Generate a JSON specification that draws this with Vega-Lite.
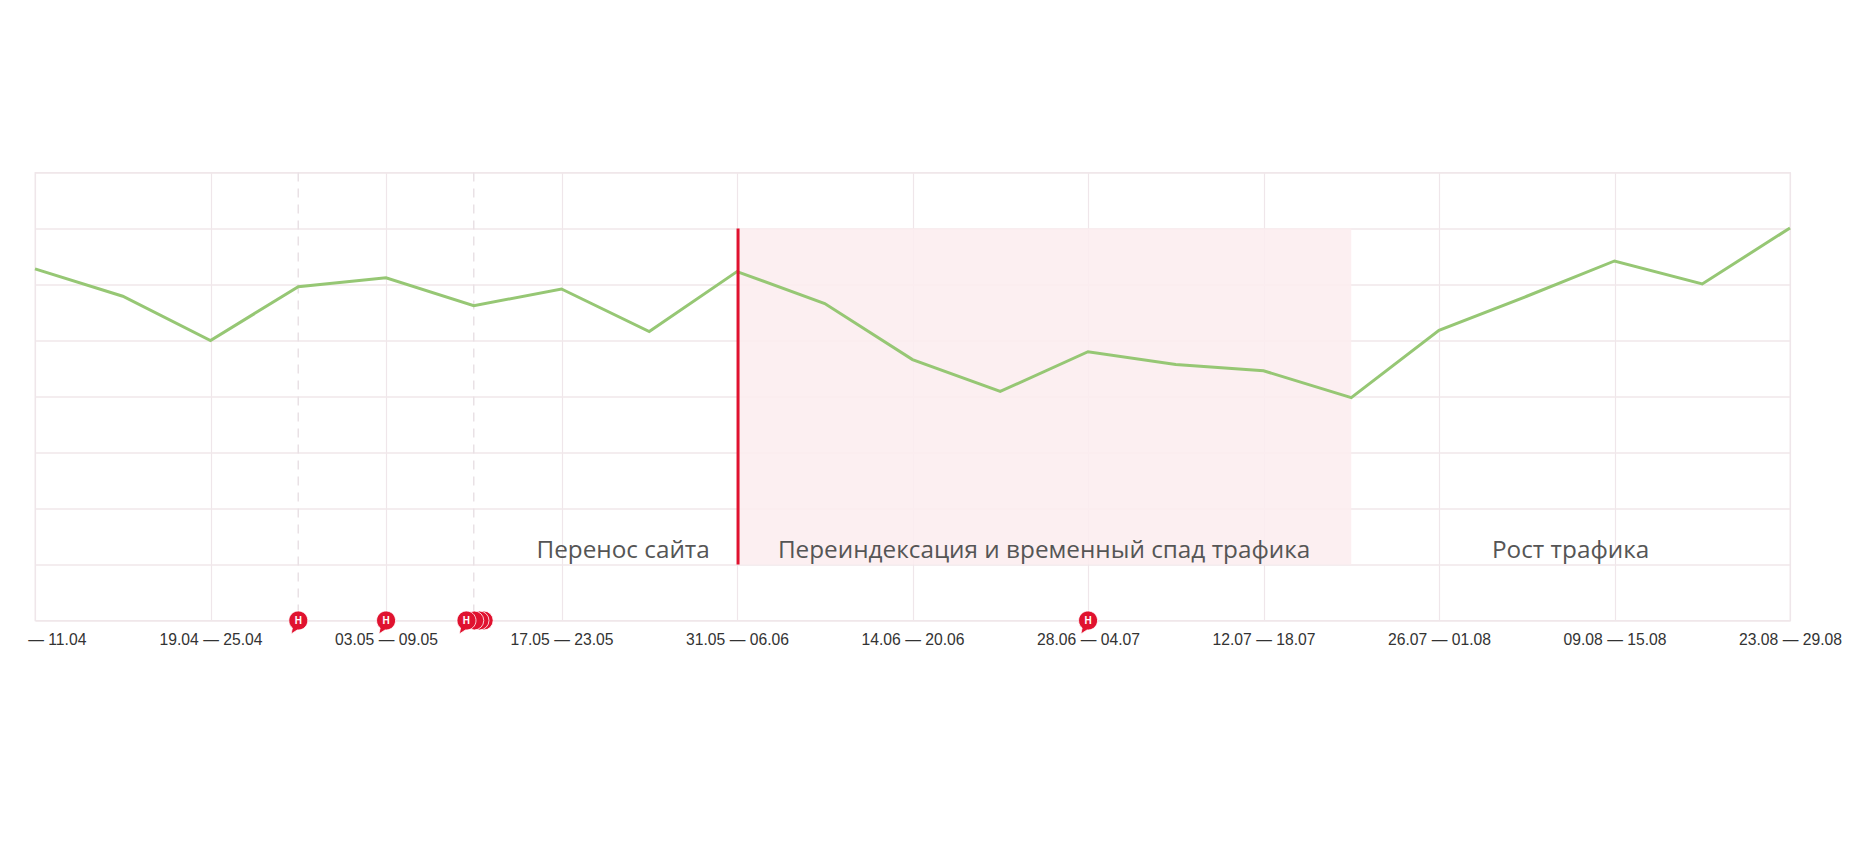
{
  "$schema": "https://vega.github.io/schema/vega-lite/v6.json",
  "width": 1755,
  "height": 448,
  "autosize": {"type": "none"},
  "padding": {"left": 35, "top": 172.5, "right": 86, "bottom": 235.5},
  "background": "#ffffff",
  "view": {"stroke": "#efe6ea", "strokeWidth": 1.3},
  "datasets": {
    "traffic": [
      {"week": "2021-04-05", "value": 6.28},
      {"week": "2021-04-12", "value": 5.79},
      {"week": "2021-04-19", "value": 5.0},
      {"week": "2021-04-26", "value": 5.96},
      {"week": "2021-05-03", "value": 6.12},
      {"week": "2021-05-10", "value": 5.62},
      {"week": "2021-05-17", "value": 5.92},
      {"week": "2021-05-24", "value": 5.16},
      {"week": "2021-05-31", "value": 6.23},
      {"week": "2021-06-07", "value": 5.66},
      {"week": "2021-06-14", "value": 4.66},
      {"week": "2021-06-21", "value": 4.09},
      {"week": "2021-06-28", "value": 4.8},
      {"week": "2021-07-05", "value": 4.57},
      {"week": "2021-07-12", "value": 4.46},
      {"week": "2021-07-19", "value": 3.98},
      {"week": "2021-07-26", "value": 5.18},
      {"week": "2021-08-02", "value": 5.79},
      {"week": "2021-08-09", "value": 6.42},
      {"week": "2021-08-16", "value": 6.01},
      {"week": "2021-08-23", "value": 7.01}
    ],
    "events": [
      {"date": "2021-04-26T00:00:00Z", "label": "Н"},
      {"date": "2021-05-03T00:00:00Z", "label": "Н"},
      {"date": "2021-05-10T19:00:00Z", "label": ""},
      {"date": "2021-05-10T11:00:00Z", "label": ""},
      {"date": "2021-05-10T01:00:00Z", "label": ""},
      {"date": "2021-05-09T10:00:00Z", "label": "Н"},
      {"date": "2021-06-28T00:00:00Z", "label": "Н"}
    ],
    "notes": [
      {"date": "2021-05-21T22:00:00Z", "text": "Перенос сайта"},
      {"date": "2021-06-24T12:00:00Z", "text": "Переиндексация и временный спад трафика"},
      {"date": "2021-08-05T12:00:00Z", "text": "Рост трафика"}
    ]
  },
  "layer": [
    {
      "data": {"values": [{"start": "2021-05-31T02:00:00Z", "end": "2021-07-19T00:00:00Z", "top": 7, "bottom": 1}]},
      "mark": {"type": "rect", "fill": "#fcedef", "opacity": 0.88},
      "encoding": {
        "x": {
          "field": "start", "type": "temporal", "title": null,
          "scale": {"type": "utc", "domain": [1617580800000, 1629676800000], "nice": false},
          "axis": {
            "values": [1617580800000, 1618790400000, 1620000000000, 1621209600000, 1622419200000, 1623628800000, 1624838400000, 1626048000000, 1627257600000, 1628467200000, 1629676800000],
            "labelExpr": "utcFormat(datum.value,'%d.%m')=='05.04' ? '\u200b\u00a0\u00a0\u00a0\u00a0\u00a0\u00a0\u00a0\u00a0\u00a0 — 11.04' : utcFormat(datum.value,'%d.%m') + ' — ' + utcFormat(time(datum.value) + 6*86400000,'%d.%m')",
            "grid": true, "gridColor": "#efe6ea", "gridWidth": 1.2,
            "domain": false, "ticks": false,
            "labelFont": "Liberation Sans", "labelFontSize": 15.7, "labelColor": "#333333",
            "labelPadding": 11.5, "labelOverlap": false, "labelBound": false, "labelFlush": false, "labelAngle": 0
          }
        },
        "x2": {"field": "end"},
        "y": {
          "field": "top", "type": "quantitative", "title": null,
          "scale": {"domain": [0, 8], "nice": false},
          "axis": {"values": [0, 1, 2, 3, 4, 5, 6, 7, 8], "grid": true, "gridColor": "#f0e7ea", "gridWidth": 1.5, "domain": false, "ticks": false, "labels": false}
        },
        "y2": {"field": "bottom"}
      }
    },
    {
      "data": {"values": [{"date": "2021-04-26"}, {"date": "2021-05-10"}]},
      "mark": {"type": "rule", "color": "#e9e1e5", "strokeWidth": 1.5, "strokeDash": [9, 7]},
      "encoding": {"x": {"field": "date", "type": "temporal"}}
    },
    {
      "data": {"name": "traffic"},
      "mark": {"type": "line", "color": "#96c774", "strokeWidth": 3, "interpolate": "linear"},
      "encoding": {
        "x": {"field": "week", "type": "temporal"},
        "y": {"field": "value", "type": "quantitative"}
      }
    },
    {
      "data": {"values": [{"date": "2021-05-31T02:00:00Z", "top": 7, "bottom": 1}]},
      "mark": {"type": "rule", "color": "#e0122f", "strokeWidth": 3},
      "encoding": {
        "x": {"field": "date", "type": "temporal"},
        "y": {"field": "top", "type": "quantitative"},
        "y2": {"field": "bottom"}
      }
    },
    {
      "data": {"name": "notes"},
      "mark": {"type": "text", "font": "Open Sans", "fontSize": 24.3, "color": "#555555", "align": "center", "baseline": "middle"},
      "encoding": {
        "x": {"field": "date", "type": "temporal"},
        "y": {"datum": 1.25},
        "text": {"field": "text"}
      }
    },
    {
      "data": {"name": "events"},
      "transform": [{"filter": "datum.label == ''"}],
      "mark": {"type": "point", "shape": "circle", "filled": true, "fill": "#e0122f", "fillOpacity": 1, "stroke": "#ffffff", "strokeWidth": 0.8, "strokeOpacity": 1, "size": 360},
      "encoding": {
        "x": {"field": "date", "type": "temporal"},
        "y": {"datum": 0}
      }
    },
    {
      "data": {"name": "events"},
      "transform": [{"filter": "datum.label != ''"}],
      "mark": {
        "type": "point", "filled": true, "fill": "#e0122f", "fillOpacity": 1, "stroke": "#ffffff", "strokeWidth": 0.8, "strokeOpacity": 1, "size": 360,
        "shape": "M-0.75,1.42 L-0.62,0.78 A1 1 0 1 1 -0.1,0.995 Z"
      },
      "encoding": {
        "x": {"field": "date", "type": "temporal"},
        "y": {"datum": 0}
      }
    },
    {
      "data": {"name": "events"},
      "mark": {"type": "text", "font": "Liberation Sans", "fontWeight": "bold", "fontSize": 10, "color": "#ffffff", "align": "center", "baseline": "middle"},
      "encoding": {
        "x": {"field": "date", "type": "temporal"},
        "y": {"datum": 0},
        "text": {"field": "label"}
      }
    }
  ]
}
